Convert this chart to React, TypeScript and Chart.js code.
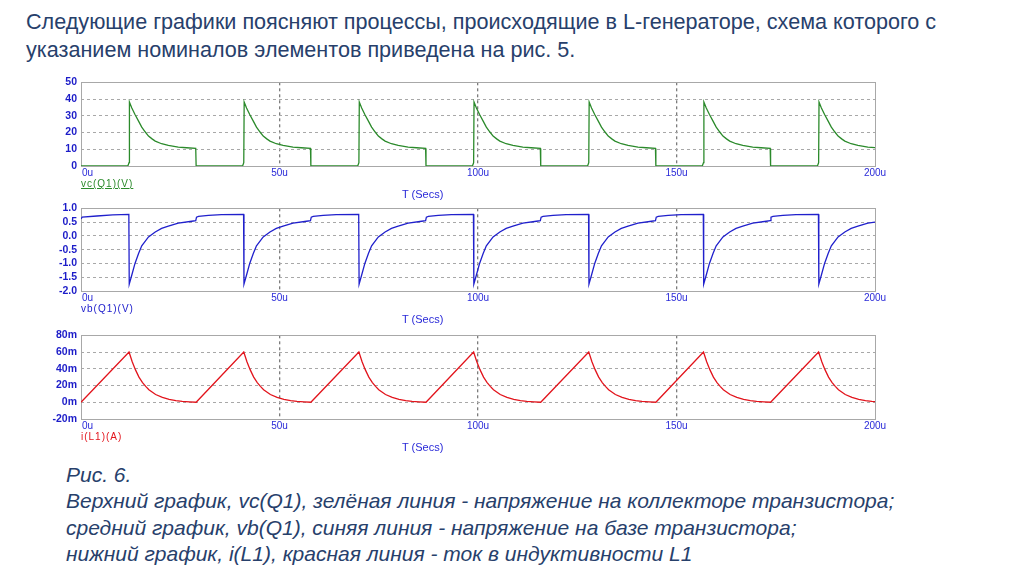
import React, { useEffect, useRef } from "react";
import { Chart, registerables } from "chart.js";
Chart.register(...registerables);

// ---- axis ticks ----
const X_TICKS = [0, 50, 100, 150, 200];
const VC_RANGE = [0, 50, 10];
const VB_RANGE = [-2, 1, 0.5];
const IL_RANGE = [-20, 80, 20];

// ---- vc(Q1) (V), time in µs ----
const VC_T = [0,
  11.8, 12.1, 12.2, 12.8, 13.6, 14.5, 15.3, 16.2, 17.0, 17.9, 18.7, 20.3, 22.0, 24.5, 26.6, 28.9, 29.0,
  40.7, 41.0, 41.1, 41.7, 42.5, 43.4, 44.2, 45.1, 45.9, 46.8, 47.6, 49.2, 50.9, 53.4, 55.5, 57.8, 57.9,
  69.7, 70.0, 70.1, 70.7, 71.5, 72.4, 73.2, 74.1, 74.9, 75.8, 76.6, 78.2, 79.9, 82.4, 84.5, 86.8, 86.9,
  98.6, 98.9, 99.0, 99.6, 100.4, 101.3, 102.1, 103.0, 103.8, 104.7, 105.5, 107.1, 108.8, 111.3, 113.4, 115.7, 115.8,
  127.6, 127.9, 128.0, 128.6, 129.4, 130.3, 131.1, 132.0, 132.8, 133.7, 134.5, 136.1, 137.8, 140.3, 142.4, 144.7, 144.8,
  156.5, 156.8, 156.9, 157.5, 158.3, 159.2, 160.0, 160.9, 161.7, 162.6, 163.4, 165.0, 166.7, 169.2, 171.3, 173.6, 173.7,
  185.5, 185.8, 185.9, 186.5, 187.3, 188.2, 189.0, 189.9, 190.7, 191.6, 192.4, 194.0, 195.7, 198.2, 200];
const VC_V = [0,
  0, 2, 38.2, 34.7, 30.8, 26.8, 23.2, 20.3, 17.9, 16.2, 14.9, 13.3, 12.3, 11.3, 10.9, 10.5, 0,
  0, 2, 38.2, 34.7, 30.8, 26.8, 23.2, 20.3, 17.9, 16.2, 14.9, 13.3, 12.3, 11.3, 10.9, 10.5, 0,
  0, 2, 38.2, 34.7, 30.8, 26.8, 23.2, 20.3, 17.9, 16.2, 14.9, 13.3, 12.3, 11.3, 10.9, 10.5, 0,
  0, 2, 38.2, 34.7, 30.8, 26.8, 23.2, 20.3, 17.9, 16.2, 14.9, 13.3, 12.3, 11.3, 10.9, 10.5, 0,
  0, 2, 38.2, 34.7, 30.8, 26.8, 23.2, 20.3, 17.9, 16.2, 14.9, 13.3, 12.3, 11.3, 10.9, 10.5, 0,
  0, 2, 38.2, 34.7, 30.8, 26.8, 23.2, 20.3, 17.9, 16.2, 14.9, 13.3, 12.3, 11.3, 10.9, 10.5, 0,
  0, 2, 38.2, 34.7, 30.8, 26.8, 23.2, 20.3, 17.9, 16.2, 14.9, 13.3, 12.3, 11.3, 11.0];

// ---- vb(Q1) (V) ----
const VB_T = [0, 0.3, 4, 8, 12.05,
  12.15, 12.8, 13.6, 14.5, 15.3, 17.0, 18.7, 20.3, 22.0, 24.5, 27.9, 28.9, 29.1, 29.6, 32.1, 35.4, 40.95,
  41.05, 41.7, 42.5, 43.4, 44.2, 45.9, 47.6, 49.2, 50.9, 53.4, 56.8, 57.8, 58.0, 58.5, 61.0, 64.3, 69.95,
  70.05, 70.7, 71.5, 72.4, 73.2, 74.9, 76.6, 78.2, 79.9, 82.4, 85.8, 86.8, 87.0, 87.5, 90.0, 93.3, 98.85,
  98.95, 99.6, 100.4, 101.3, 102.1, 103.8, 105.5, 107.1, 108.8, 111.3, 114.7, 115.7, 115.9, 116.4, 118.9, 122.2, 127.85,
  127.95, 128.6, 129.4, 130.3, 131.1, 132.8, 134.5, 136.1, 137.8, 140.3, 143.7, 144.7, 144.9, 145.4, 147.9, 151.2, 156.75,
  156.85, 157.5, 158.3, 159.2, 160.0, 161.7, 163.4, 165.0, 166.7, 169.2, 172.6, 173.6, 173.8, 174.3, 176.8, 180.1, 185.75,
  185.85, 186.5, 187.3, 188.2, 189.0, 190.7, 192.4, 194.0, 195.7, 198.2, 200];
const VB_V = [0.62, 0.68, 0.72, 0.76, 0.78,
  -1.75, -1.42, -1.0, -0.64, -0.36, -0.04, 0.14, 0.27, 0.35, 0.46, 0.53, 0.55, 0.68, 0.71, 0.74, 0.77, 0.78,
  -1.75, -1.42, -1.0, -0.64, -0.36, -0.04, 0.14, 0.27, 0.35, 0.46, 0.53, 0.55, 0.68, 0.71, 0.74, 0.77, 0.78,
  -1.75, -1.42, -1.0, -0.64, -0.36, -0.04, 0.14, 0.27, 0.35, 0.46, 0.53, 0.55, 0.68, 0.71, 0.74, 0.77, 0.78,
  -1.75, -1.42, -1.0, -0.64, -0.36, -0.04, 0.14, 0.27, 0.35, 0.46, 0.53, 0.55, 0.68, 0.71, 0.74, 0.77, 0.78,
  -1.75, -1.42, -1.0, -0.64, -0.36, -0.04, 0.14, 0.27, 0.35, 0.46, 0.53, 0.55, 0.68, 0.71, 0.74, 0.77, 0.78,
  -1.75, -1.42, -1.0, -0.64, -0.36, -0.04, 0.14, 0.27, 0.35, 0.46, 0.53, 0.55, 0.68, 0.71, 0.74, 0.77, 0.78,
  -1.75, -1.42, -1.0, -0.64, -0.36, -0.04, 0.14, 0.27, 0.35, 0.46, 0.50];

// ---- i(L1) (mA) ----
const IL_T = [0,
  12.1, 12.9, 13.7, 14.6, 15.5, 16.3, 17.1, 18.8, 20.5, 22.2, 23.9, 25.5, 27.3, 29.0,
  41.0, 41.8, 42.6, 43.5, 44.4, 45.2, 46.0, 47.7, 49.4, 51.1, 52.8, 54.4, 56.2, 57.9,
  70.0, 70.8, 71.6, 72.5, 73.4, 74.2, 75.0, 76.7, 78.4, 80.1, 81.8, 83.4, 85.2, 86.9,
  98.9, 99.7, 100.5, 101.4, 102.3, 103.1, 103.9, 105.6, 107.3, 109.0, 110.7, 112.3, 114.1, 115.8,
  127.9, 128.7, 129.5, 130.4, 131.3, 132.1, 132.9, 134.6, 136.3, 138.0, 139.7, 141.3, 143.1, 144.8,
  156.8, 157.6, 158.4, 159.3, 160.2, 161.0, 161.8, 163.5, 165.2, 166.9, 168.6, 170.2, 172.0, 173.7,
  185.8, 186.6, 187.4, 188.3, 189.2, 190.0, 190.8, 192.5, 194.2, 195.9, 197.6, 199.2, 200];
const IL_V = [0,
  60, 48.5, 39, 30, 23.5, 19, 15, 9.3, 5.8, 3.5, 2.0, 1.0, 0.4, 0,
  60, 48.5, 39, 30, 23.5, 19, 15, 9.3, 5.8, 3.5, 2.0, 1.0, 0.4, 0,
  60, 48.5, 39, 30, 23.5, 19, 15, 9.3, 5.8, 3.5, 2.0, 1.0, 0.4, 0,
  60, 48.5, 39, 30, 23.5, 19, 15, 9.3, 5.8, 3.5, 2.0, 1.0, 0.4, 0,
  60, 48.5, 39, 30, 23.5, 19, 15, 9.3, 5.8, 3.5, 2.0, 1.0, 0.4, 0,
  60, 48.5, 39, 30, 23.5, 19, 15, 9.3, 5.8, 3.5, 2.0, 1.0, 0.4, 0,
  60, 48.5, 39, 30, 23.5, 19, 15, 9.3, 5.8, 3.5, 2.0, 1.0, 0.7];

const PLOT_LEFT = 81;
const PLOT_RIGHT = 875;
const PAD_TOP = 10;
const AXIS_H = 24;
const TICK_BLUE = "#1c1cc8";

type PlotCfg = {
  top: number;
  height: number;
  t: number[];
  v: number[];
  color: string;
  range: number[];
  fmt: (v: number) => string;
  label: string;
  underline?: boolean;
};

const framePlugin = {
  id: "frame",
  beforeDatasetsDraw(chart: any) {
    const { ctx, chartArea } = chart;
    ctx.save();
    ctx.strokeStyle = "#a8a8a8";
    ctx.lineWidth = 1;
    ctx.setLineDash([]);
    ctx.strokeRect(
      Math.round(chartArea.left) + 0.5,
      Math.round(chartArea.top) + 0.5,
      Math.round(chartArea.right - chartArea.left),
      Math.round(chartArea.bottom - chartArea.top)
    );
    ctx.restore();
  },
};

const xLabelPlugin = {
  id: "xlabels",
  afterDraw(chart: any) {
    const { ctx, chartArea } = chart;
    const xs = chart.scales.x;
    ctx.save();
    ctx.fillStyle = "#2a2ad8";
    ctx.font = "10px 'Liberation Sans', Arial, sans-serif";
    ctx.textBaseline = "middle";
    X_TICKS.forEach((v) => {
      const px = xs.getPixelForValue(v);
      ctx.textAlign = v === X_TICKS[0] ? "left" : "center";
      ctx.fillText(`${v}u`, px + (v === X_TICKS[0] ? 1 : 0), chartArea.bottom + 7);
    });
    ctx.restore();
  },
};

function Plot({ cfg }: { cfg: PlotCfg }) {
  const ref = useRef<HTMLCanvasElement>(null);
  useEffect(() => {
    const [min, max, step] = cfg.range;
    const chart = new Chart(ref.current as HTMLCanvasElement, {
      type: "line",
      data: {
        datasets: [
          {
            data: cfg.t.map((x, i) => ({ x, y: cfg.v[i] })),
            borderColor: cfg.color,
            borderWidth: 1.3,
            pointRadius: 0,
            tension: 0,
            fill: false,
          },
        ],
      },
      options: {
        animation: false,
        responsive: false,
        maintainAspectRatio: false,
        events: [],
        layout: { padding: { top: PAD_TOP, right: 1024 - PLOT_RIGHT, left: 0, bottom: 0 } },
        plugins: { legend: { display: false }, tooltip: { enabled: false } },
        scales: {
          x: {
            type: "linear",
            min: X_TICKS[0],
            max: X_TICKS[X_TICKS.length - 1],
            ticks: { display: false, stepSize: 50, autoSkip: false },
            grid: {
              color: (c: any) =>
                c.tick && (c.tick.value === X_TICKS[0] || c.tick.value === X_TICKS[X_TICKS.length - 1])
                  ? "rgba(0,0,0,0)"
                  : "#7c7c7c",
              lineWidth: 1.3,
              drawTicks: false,
            },
            border: { display: false, dash: [3, 3] },
            afterFit: (s: any) => {
              s.height = AXIS_H;
            },
          },
          y: {
            type: "linear",
            min,
            max,
            ticks: {
              stepSize: step,
              autoSkip: false,
              callback: (v: any) => cfg.fmt(Number(v)),
              color: TICK_BLUE,
              font: { family: "'Liberation Sans', Arial, sans-serif", size: 10.5, weight: "bold" },
              padding: 4,
            },
            grid: {
              color: (c: any) =>
                c.tick && (c.tick.value === min || c.tick.value === max) ? "rgba(0,0,0,0)" : "#a8a8a8",
              lineWidth: 1,
              drawTicks: false,
            },
            border: { display: false, dash: [3, 3] },
            afterFit: (s: any) => {
              s.width = PLOT_LEFT;
            },
          },
        },
      } as any,
      plugins: [framePlugin, xLabelPlugin],
    });
    return () => chart.destroy();
  }, []);
  const bottom = cfg.top + cfg.height;
  return (
    <>
      <canvas
        ref={ref}
        width={1024}
        height={cfg.height + PAD_TOP + AXIS_H}
        style={{ position: "absolute", left: 0, top: cfg.top - PAD_TOP, width: 1024, height: cfg.height + PAD_TOP + AXIS_H }}
      />
      <div
        style={{
          position: "absolute",
          left: PLOT_LEFT,
          top: bottom + 12,
          font: "10px 'Liberation Sans', Arial, sans-serif",
          letterSpacing: "1px",
          lineHeight: "12px",
          color: cfg.color,
          textDecoration: cfg.underline ? "underline" : "none",
          whiteSpace: "nowrap",
        }}
      >
        {cfg.label}
      </div>
      <div
        style={{
          position: "absolute",
          left: 402,
          top: bottom + 22,
          font: "11px 'Liberation Sans', Arial, sans-serif",
          lineHeight: "13px",
          color: "#2a2ad8",
          whiteSpace: "nowrap",
        }}
      >
        T (Secs)
      </div>
    </>
  );
}

const PLOTS: PlotCfg[] = [
  { top: 82, height: 84, t: VC_T, v: VC_V, color: "#2b8a2b", range: VC_RANGE, fmt: (v) => `${v}`, label: "vc(Q1)(V)", underline: true },
  { top: 208, height: 83, t: VB_T, v: VB_V, color: "#2020cc", range: VB_RANGE, fmt: (v) => v.toFixed(1), label: "vb(Q1)(V)" },
  { top: 335, height: 84, t: IL_T, v: IL_V, color: "#e2141c", range: IL_RANGE, fmt: (v) => `${v}m`, label: "i(L1)(A)" },
];

export default function App() {
  const textColor = "#27406b";
  return (
    <div style={{ position: "fixed", left: 0, top: 0, width: 1024, height: 576, background: "#ffffff", overflow: "hidden" }}>
      <div
        style={{
          position: "absolute",
          left: 26,
          top: 8,
          font: "21.6px 'Liberation Sans', Arial, sans-serif",
          lineHeight: "28px",
          color: textColor,
          whiteSpace: "nowrap",
        }}
      >
        <div>Следующие графики поясняют процессы, происходящие в L-генераторе, схема которого с</div>
        <div>указанием номиналов элементов приведена на рис. 5.</div>
      </div>
      {PLOTS.map((p, i) => (
        <Plot key={i} cfg={p} />
      ))}
      <div
        style={{
          position: "absolute",
          left: 66,
          top: 462,
          font: "italic 21px 'Liberation Sans', Arial, sans-serif",
          lineHeight: "26.3px",
          color: textColor,
          whiteSpace: "nowrap",
        }}
      >
        <div>Рис. 6.</div>
        <div>Верхний график, vc(Q1), зелёная линия - напряжение на коллекторе транзистора;</div>
        <div>средний график, vb(Q1), синяя линия - напряжение на базе транзистора;</div>
        <div>нижний график, i(L1), красная линия - ток в индуктивности L1</div>
      </div>
    </div>
  );
}
